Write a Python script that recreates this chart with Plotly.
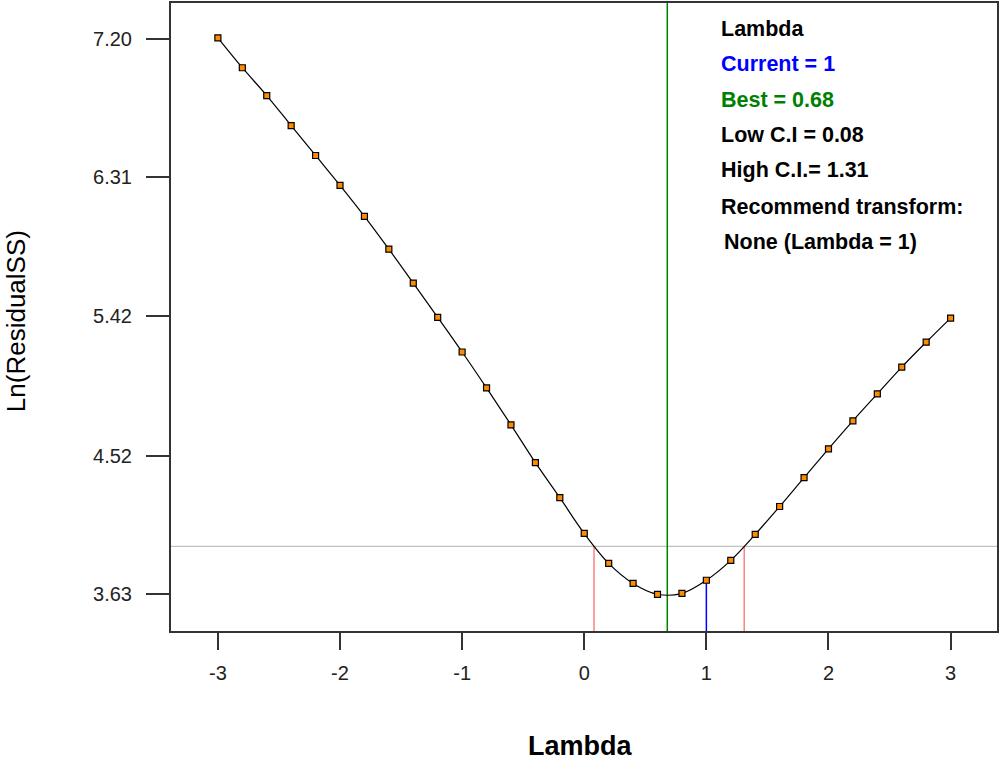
import plotly.graph_objects as go

# Data
lambdas = [-3.0, -2.8, -2.6, -2.4, -2.2, -2.0, -1.8, -1.6, -1.4, -1.2, -1.0,
           -0.8, -0.6, -0.4, -0.2, 0.0, 0.2, 0.4, 0.6, 0.8, 1.0,
           1.2, 1.4, 1.6, 1.8, 2.0, 2.2, 2.4, 2.6, 2.8, 3.0]
ln_rss = [7.206, 7.014, 6.835, 6.642, 6.450, 6.258, 6.059, 5.848, 5.630, 5.410, 5.187,
          4.956, 4.719, 4.476, 4.251, 4.021, 3.829, 3.700, 3.630, 3.636, 3.720,
          3.848, 4.015, 4.194, 4.380, 4.565, 4.745, 4.918, 5.090, 5.250, 5.405]
y_ticks = [3.63, 4.52, 5.42, 6.31, 7.20]
x_ticks = [-3, -2, -1, 0, 1, 2, 3]
current_lambda = 1.0
current_value = 3.72
best_lambda = 0.68
low_ci = 0.08
high_ci = 1.31
ci_threshold = 3.938
x_range = [-3.384, 3.380]
y_range = [3.394, 7.430]

info_lines = [
    ("Lambda", "#000000"),
    ("Current = 1", "#0000FF"),
    ("Best = 0.68", "#008000"),
    ("Low C.I = 0.08", "#000000"),
    ("High C.I.= 1.31", "#000000"),
    ("Recommend transform:", "#000000"),
    ("None (Lambda = 1)", "#000000"),
]

fig = go.Figure()

# CI threshold horizontal line
fig.add_trace(go.Scatter(x=x_range, y=[ci_threshold, ci_threshold], mode="lines",
                         line=dict(color="#C0C0C0", width=1.2), hoverinfo="skip"))
# Low / High CI verticals
for v in (low_ci, high_ci):
    fig.add_trace(go.Scatter(x=[v, v], y=[y_range[0], ci_threshold], mode="lines",
                             line=dict(color="#FF8080", width=1.5), hoverinfo="skip"))
# Best lambda vertical
fig.add_trace(go.Scatter(x=[best_lambda, best_lambda], y=y_range, mode="lines",
                         line=dict(color="#008000", width=1.5), hoverinfo="skip"))
# Current lambda vertical
fig.add_trace(go.Scatter(x=[current_lambda, current_lambda], y=[y_range[0], current_value],
                         mode="lines", line=dict(color="#0000FF", width=1.5), hoverinfo="skip"))
# Curve
fig.add_trace(go.Scatter(x=lambdas, y=ln_rss, mode="lines+markers",
                         line=dict(color="#000000", width=1.2, shape="spline"),
                         marker=dict(symbol="square", size=6, color="#FF8C00",
                                     line=dict(color="#000000", width=1.2))))

label_font = "Liberation Sans, Arial, sans-serif"
y_px = [27, 62, 98, 133, 169, 206, 241]
for (txt, col), yp in zip(info_lines, y_px):
    xp = 723 if txt.startswith("None") else 720
    fig.add_annotation(text="<b>" + txt + "</b>", xref="paper", yref="paper",
                       x=(xp - 171) / 827, y=(631 - yp) / 630,
                       xanchor="left", yanchor="middle", showarrow=False,
                       font=dict(family=label_font, size=21.5, color=col))

fig.add_annotation(text="Ln(ResidualSS)", xref="paper", yref="paper",
                   x=(16 - 171) / 827, y=(631 - 320) / 630, textangle=-90,
                   xanchor="center", yanchor="middle", showarrow=False,
                   font=dict(family="Liberation Sans, Arial, sans-serif", size=26, color="#000000"))
fig.add_annotation(text="<b>Lambda</b>", xref="paper", yref="paper",
                   x=(581 - 171) / 827, y=(631 - 746) / 630,
                   xanchor="center", yanchor="middle", showarrow=False,
                   font=dict(family="Liberation Sans, Arial, sans-serif", size=27, color="#000000"))

axis_common = dict(showgrid=False, zeroline=False, showline=True, linecolor="#333333",
                   linewidth=2, mirror=True, ticks="outside", tickcolor="#333333",
                   tickwidth=2, tickfont=dict(family="Liberation Sans, Arial, sans-serif",
                                              size=20, color="#222222"))
fig.update_xaxes(range=x_range, tickvals=x_ticks, ticktext=[str(v) for v in x_ticks],
                 ticklen=17, ticklabelstandoff=6, **axis_common)
fig.update_yaxes(range=y_range, tickvals=y_ticks, ticktext=[f"{v:.2f}" for v in y_ticks],
                 ticklen=23, ticklabelstandoff=10, **axis_common)

fig.update_layout(width=1000, height=760, showlegend=False,
                  margin=dict(l=171, r=2, t=1, b=129),
                  paper_bgcolor="white", plot_bgcolor="white")

fig.write_html("out.html", config={"displayModeBar": False},
               post_script="document.body.style.margin='0';document.body.style.overflow='hidden';")
